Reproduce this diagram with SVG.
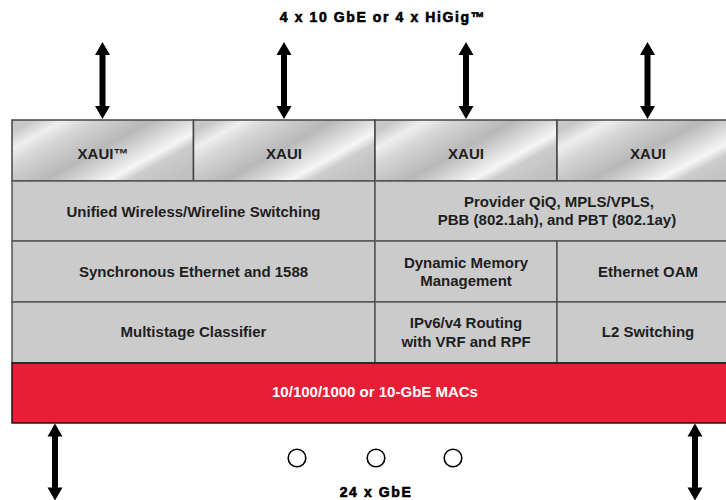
<svg xmlns="http://www.w3.org/2000/svg" width="726" height="500" viewBox="0 0 726 500">
<style>
.t{font-family:"Liberation Sans",Arial,Helvetica,sans-serif;font-weight:bold;font-size:15px;fill:#1e1e1e;text-anchor:middle}
.h{font-family:"Liberation Sans",Arial,Helvetica,sans-serif;font-weight:bold;font-size:14px;fill:#000;stroke:#000;stroke-width:0.6;text-anchor:middle;letter-spacing:1.6px}
.w{fill:#fff}
.cell{fill:#cbcbcb;stroke:#555;stroke-width:1.5}
.x{fill:url(#metal);stroke:#444;stroke-width:1.5}
.dot{fill:#fff;stroke:#000;stroke-width:1.6}
.arr{fill:#000}
</style>
<defs>
<linearGradient id="metal" x1="0" y1="0.2" x2="1" y2="0.8">
<stop offset="0" stop-color="#c8c8c8"/>
<stop offset="0.12" stop-color="#eeeeee"/>
<stop offset="0.25" stop-color="#d4d4d4"/>
<stop offset="0.48" stop-color="#b8b8b8"/>
<stop offset="0.62" stop-color="#d8d8d8"/>
<stop offset="0.74" stop-color="#f6f6f6"/>
<stop offset="0.82" stop-color="#cccccc"/>
<stop offset="1" stop-color="#c0c0c0"/>
</linearGradient>
<path id="vArrow" d="M0,0 L7.5,13 L3,13 L3,64 L7.5,64 L0,77 L-7.5,64 L-3,64 L-3,13 L-7.5,13 Z"/>
</defs>
<text class="h" x="383" y="22">4 x 10 GbE or 4 x HiGig™</text>
<g id="xaui1"><rect class="x" x="12" y="120" width="181.5" height="61"/><text class="t" x="103" y="159">XAUI™</text></g>
<g id="xaui2"><rect class="x" x="193.5" y="120" width="181.5" height="61"/><text class="t" x="284" y="159">XAUI</text></g>
<g id="xaui3"><rect class="x" x="375" y="120" width="182" height="61"/><text class="t" x="466" y="159">XAUI</text></g>
<g id="xaui4"><rect class="x" x="557" y="120" width="190" height="61"/><text class="t" x="648" y="159">XAUI</text></g>
<g id="unified"><rect class="cell" x="12" y="181" width="363" height="60"/><text class="t" x="193.5" y="216.5">Unified Wireless/Wireline Switching</text></g>
<g id="provider"><rect class="cell" x="375" y="181" width="372" height="60"/><text class="t" x="559" y="206.5">Provider QiQ, MPLS/VPLS,</text><text class="t" x="557" y="225">PBB (802.1ah), and PBT (802.1ay)</text></g>
<g id="synce"><rect class="cell" x="12" y="241" width="363" height="61"/><text class="t" x="193.5" y="277">Synchronous Ethernet and 1588</text></g>
<g id="dmm"><rect class="cell" x="375" y="241" width="182" height="61"/><text class="t" x="466" y="268">Dynamic Memory</text><text class="t" x="466" y="286">Management</text></g>
<g id="oam"><rect class="cell" x="557" y="241" width="190" height="61"/><text class="t" x="648" y="277">Ethernet OAM</text></g>
<g id="classifier"><rect class="cell" x="12" y="302" width="363" height="61"/><text class="t" x="193.5" y="337">Multistage Classifier</text></g>
<g id="routing"><rect class="cell" x="375" y="302" width="182" height="61"/><text class="t" x="466" y="328">IPv6/v4 Routing</text><text class="t" x="466" y="347">with VRF and RPF</text></g>
<g id="l2"><rect class="cell" x="557" y="302" width="190" height="61"/><text class="t" x="648" y="337">L2 Switching</text></g>
<g id="macs"><rect x="12" y="363" width="735" height="60" fill="#e91d35" stroke="#1a1a1a" stroke-width="1.5"/><text class="t w" x="375" y="397">10/100/1000 or 10-GbE MACs</text></g>
<g id="dots"><circle class="dot" cx="297" cy="458" r="8.8"/><circle class="dot" cx="376" cy="458" r="8.8"/><circle class="dot" cx="453" cy="458" r="8.8"/></g>
<text class="h" x="376" y="497">24 x GbE</text>
<g id="connectors">
<use class="arr" href="#vArrow" x="102.5" y="42"/>
<use class="arr" href="#vArrow" x="284" y="42"/>
<use class="arr" href="#vArrow" x="466" y="42"/>
<use class="arr" href="#vArrow" x="647.5" y="42"/>
<use class="arr" href="#vArrow" x="55" y="423.5"/>
<use class="arr" href="#vArrow" x="695" y="423.5"/>
</g>
</svg>
